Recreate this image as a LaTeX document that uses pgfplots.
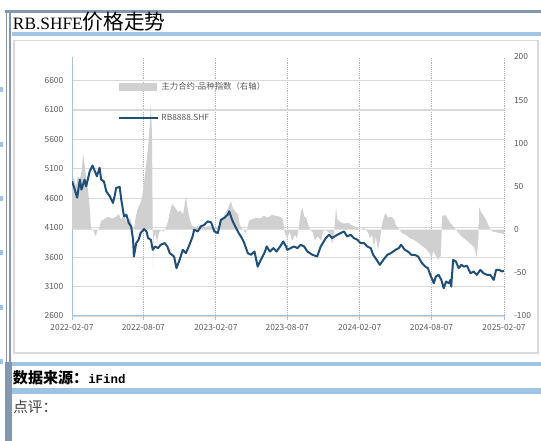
\documentclass[border=0pt]{standalone}
\usepackage{fontspec}
\usepackage{pgfplots}
\pgfplotsset{compat=1.18}
\setmainfont{Liberation Serif}
\newfontfamily\cjk{Noto Sans CJK SC}
\newfontfamily\mono{Liberation Mono}
\definecolor{framec}{HTML}{8497B0}
\definecolor{lightbar}{HTML}{9DC3E6}
\definecolor{axisblue}{HTML}{9DC3E6}
\definecolor{gridgray}{HTML}{D9D9D9}
\definecolor{areagray}{HTML}{D0D0D0}
\definecolor{lineblue}{HTML}{1F4E79}
\definecolor{ticktext}{HTML}{595959}
\pgfplotsset{
  common/.style={scale only axis, width=324pt, height=194.25pt,
    at={(54pt,93.75pt)}, anchor=south west, xmin=0, xmax=1096,
    tick label style={font=\cjk\fontsize{6.3}{7}\selectfont, color=ticktext},
    /pgf/number format/assume math mode=true,
    /pgf/number format/1000 sep={}},
}
\begin{document}
\begin{tikzpicture}[x=0.75pt,y=0.75pt]
\path[use as bounding box] (0,0) rectangle (541,441);
% frame
\fill[framec] (5,431) rectangle (541,428.3);
\fill[framec] (5.8,429) rectangle (7.3,79);
\fill[framec] (9.4,429) rectangle (11,79);
\fill[framec] (5,79) rectangle (12,0);
\fill[lightbar] (12,409.3) rectangle (541,405.3);
\draw[gridgray, line width=0.9pt] (14,400.5) rectangle (538,88);
\fill[lightbar] (12,78.7) rectangle (541,74.7);
\fill[lightbar] (12,53) rectangle (541,47);
\foreach \yy in {90,145,199,253,308,362} {\fill[lightbar] (0,441-\yy+2.5) rectangle (2.5,441-\yy-2.5);}
\node[anchor=base west, inner sep=0] at (12.7,411) {\fontsize{13pt}{15pt}\selectfont RB.SHFE{\cjk\fontsize{15.5pt}{17pt}\selectfont 价格走势}};
\node[anchor=base west, inner sep=0] at (12.7,57) {{\cjk\bfseries\fontsize{11.3pt}{13pt}\selectfont 数据来源：}{\mono\bfseries\fontsize{9.3pt}{11pt}\selectfont iFind}};
\node[anchor=base west, inner sep=0, text=black!75] at (13,28.5) {\cjk\fontsize{11pt}{13pt}\selectfont 点评：};
% axis A: grid and ticks
\begin{axis}[common, ymin=2600, ymax=7000, ytick={2600,3100,...,6600},
  xtick={0,181,365,546,730,912,1096},
  xticklabels={2022-02-07,2022-08-07,2023-02-07,2023-08-07,2024-02-07,2024-08-07,2025-02-07},
  axis x line*=bottom, axis y line*=left,
  axis line style={-, axisblue, line width=0.75pt},
  ymajorgrids, xmajorgrids,
  x grid style={densely dotted, black!30, line width=0.6pt},
  y grid style={gridgray, line width=0.9pt},
  tick align=outside, major tick length=3pt,
  xtick style={axisblue, line width=0.6pt}, ytick style={draw=none},
]
\addplot[draw=none] coordinates {(0,2600)};
\end{axis}
% axis B: spread (right axis)
\begin{axis}[common, ymin=-100, ymax=200, ytick={-100,-50,...,200},
  axis y line*=right, axis x line=none, y axis line style={draw=none},
  ytick style={draw=none}, yticklabel style={xshift=4pt},
]
\addplot[fill=areagray, draw=none] coordinates {
(0,55)(5,60)(10,50)(15,62)(20,58)(25,70)(28,88)(32,75)(36,60)(41,45)(46,20)(48,2)(53,0)(61,-8)(63,-2)(68,0)
(74,10)(81,12)(91,15)(101,13)(112,15)(119,18)(124,12)(132,16)(140,8)(147,14)(152,5)(157,0)(162,15)(167,25)
(173,30)(178,38)(183,55)(188,75)(193,95)(197,120)(200,146)(203,110)(204.5,20)(205.5,-45)(207,-10)(211,-5)
(216,-14)(221,-3)(226,0)(233,-2)(238,2)(244,10)(249,22)(254,30)(259,27)(264,24)(269,20)(274,22)(282,18)
(289,38)(294,22)(299,12)(304,5)(312,3)(325,5)(335,3)(350,4)(363,2)(373,5)(381,12)(388,18)(396,25)(403,33)
(408,25)(416,20)(421,18)(426,5)(434,0)(439,-4)(444,0)(449,10)(457,12)(467,14)(477,13)(487,16)(497,14)
(507,17)(518,16)(528,15)(535,12)(540,-5)(546,-9)(553,-3)(558,-13)(566,-6)(571,-10)(576,5)(581,22)(585,25)
(589,15)(594,14)(599,6)(604,0)(611,-3)(616,-12)(624,-8)(632,-13)(637,-2)(644,0)(655,-5)(660,-17)(665,-3)
(670,26)(673,12)(680,9)(690,7)(701,8)(710,5)(721,3)(731,0)(741,2)(751,-3)(756,-10)(761,-6)(766,-20)
(771,-8)(776,-24)(781,-12)(786,5)(792,16)(795,19)(802,14)(809,15)(817,12)(822,5)(827,2)(837,-4)(847,-6)
(858,-10)(868,-12)(878,-15)(888,-19)(898,-22)(908,-28)(912,-34)(916,-25)(923,-30)(929,-35)(936,-30)
(939,15)(944,17)(949,16)(954,12)(959,8)(969,3)(979,-3)(989,-8)(1000,-12)(1010,-16)(1020,-20)(1027,-32)
(1031,-10)(1033,26)(1038,20)(1043,17)(1050,12)(1058,3)(1066,-2)(1076,-3)(1086,-4)(1096,-5)
} \closedcycle;
\end{axis}
% axis C: price line
\begin{axis}[common, ymin=2600, ymax=7000, hide axis,
  legend style={at={(0.1065,0.915)}, anchor=north west, draw=none, fill=none,
    font=\cjk\fontsize{6.3}{7}\selectfont, text=ticktext, row sep=13pt,
    inner sep=0pt, cells={anchor=west}},
]
\addlegendimage{legend image code/.code={\fill[areagray] (0pt,-2.5pt) rectangle (28pt,2.5pt);}}
\addlegendentry{主力合约-品种指数（右轴）}
\addplot[lineblue, line width=1.5pt, line join=round,
  legend image code/.code={\draw[lineblue, line width=1.4pt] (0pt,0pt) -- (29pt,0pt);}] coordinates {
(0,4888)(7,4747)(13,4611)(20,4917)(24,4747)(32,4917)(36,4803)(45,5059)(52,5156)(58,5059)(63,4974)(70,5117)
(74,4917)(81,4888)(87,4718)(96,4633)(104,4520)(108,4633)(112,4776)(121,4793)(125,4577)(132,4292)(138,4321)
(144,4180)(150,4122)(155,3895)(157,3611)(163,3839)(169,3895)(174,4009)(183,4077)(189,4037)(193,3924)
(200,3895)(205,3725)(211,3781)(218,3753)(225,3810)(235,3839)(242,3781)(248,3668)(259,3611)(265,3413)
(273,3554)(281,3725)(289,3668)(298,3810)(306,3952)(310,4066)(319,4037)(327,4122)(336,4151)(344,4207)
(353,4190)(361,4037)(370,4009)(378,4236)(386,4265)(395,4321)(399,4377)(406,4236)(414,4122)(423,4009)
(431,3924)(437,3839)(446,3668)(454,3640)(463,3696)(471,3440)(479,3554)(488,3668)(494,3781)(502,3696)
(511,3753)(519,3696)(528,3781)(536,3866)(543,3781)(546,3725)(555,3753)(563,3781)(572,3753)(580,3810)
(589,3781)(597,3696)(610,3640)(622,3611)(631,3781)(644,3924)(652,3980)(660,3924)(673,3980)(682,4009)
(690,4037)(698,3952)(707,3980)(715,3924)(724,3895)(732,3839)(741,3839)(749,3781)(758,3753)(764,3640)
(773,3554)(781,3469)(790,3554)(800,3640)(809,3668)(821,3725)(829,3753)(835,3810)(844,3725)(852,3696)
(861,3640)(869,3640)(878,3611)(888,3498)(896,3440)(903,3413)(909,3299)(918,3157)(923,3270)(930,3299)
(937,3213)(943,3072)(949,3185)(956,3157)(960,3213)(962,3100)(967,3554)(974,3525)(981,3413)(988,3469)
(994,3440)(1002,3452)(1011,3327)(1019,3355)(1027,3299)(1036,3384)(1044,3327)(1053,3299)(1061,3299)
(1070,3213)(1076,3384)(1084,3384)(1091,3355)(1096,3370)
};
\addlegendentry{RB8888.SHF}
\end{axis}
\end{tikzpicture}
\end{document}
